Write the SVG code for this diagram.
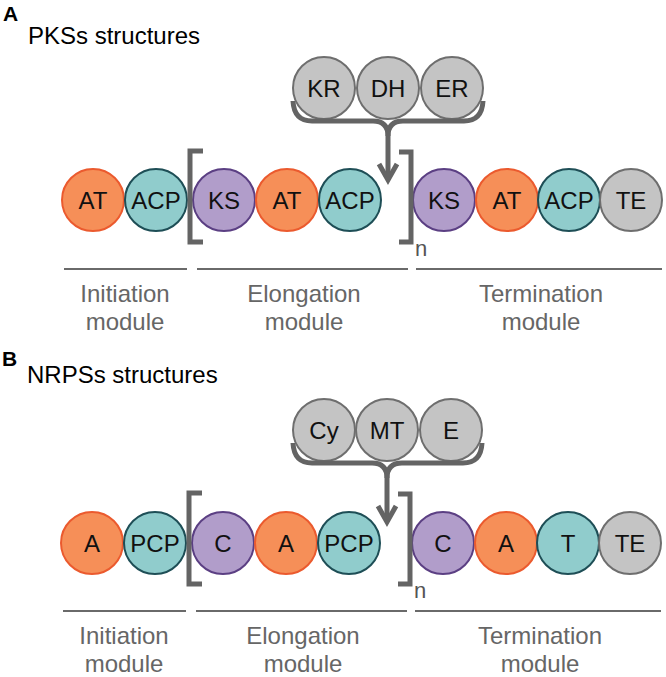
<svg xmlns="http://www.w3.org/2000/svg" width="666" height="677" viewBox="0 0 666 677">
<style>
text{font-family:"Liberation Sans",Arial,sans-serif}
.c{stroke-width:2}
.or{fill:#F68F58;stroke:#EB5A2E}
.tl{fill:#90CCCC;stroke:#1E4E56}
.pu{fill:#B19DCA;stroke:#5B3F83}
.gr{fill:#C4C4C4;stroke:#6E6E6E}
.lb{font-size:24px;fill:#111;text-anchor:middle}
.br{fill:none;stroke:#646464;stroke-width:5}
.ln{stroke:#6A6A6A;stroke-width:2}
.md{font-size:24px;fill:#666;text-anchor:middle}
.hd{font-size:21px;font-weight:bold;fill:#000}
.tt{font-size:24px;fill:#000}
.n{font-size:22px;fill:#555}
</style>
<rect width="666" height="677" fill="#fff"/>

<!-- Panel A -->
<text class="hd" x="3" y="21">A</text>
<text class="tt" x="28" y="44">PKSs structures</text>

<g id="A-tailoring">
<g id="A-KR"><circle class="c gr" cx="324" cy="88" r="31"/><text class="lb" x="324" y="97">KR</text></g>
<g id="A-DH"><circle class="c gr" cx="388" cy="88" r="31"/><text class="lb" x="388" y="97">DH</text></g>
<g id="A-ER"><circle class="c gr" cx="452" cy="88" r="31"/><text class="lb" x="452" y="97">ER</text></g>
</g>

<g id="A-init">
<g id="A-AT1"><circle class="c or" cx="93" cy="200" r="31"/><text class="lb" x="93" y="209">AT</text></g>
<g id="A-ACP1"><circle class="c tl" cx="156" cy="200" r="31"/><text class="lb" x="156" y="209">ACP</text></g>
</g>
<g id="A-elong">
<g id="A-KS2"><circle class="c pu" cx="224" cy="200" r="31"/><text class="lb" x="224" y="209">KS</text></g>
<g id="A-AT2"><circle class="c or" cx="287" cy="200" r="31"/><text class="lb" x="287" y="209">AT</text></g>
<g id="A-ACP2"><circle class="c tl" cx="350" cy="200" r="31"/><text class="lb" x="350" y="209">ACP</text></g>
</g>
<g id="A-term">
<g id="A-KS3"><circle class="c pu" cx="444" cy="200" r="31"/><text class="lb" x="444" y="209">KS</text></g>
<g id="A-AT3"><circle class="c or" cx="507" cy="200" r="31"/><text class="lb" x="507" y="209">AT</text></g>
<g id="A-ACP3"><circle class="c tl" cx="569" cy="200" r="31"/><text class="lb" x="569" y="209">ACP</text></g>
<g id="A-TE"><circle class="c gr" cx="631" cy="200" r="31"/><text class="lb" x="631" y="209">TE</text></g>
</g>

<g id="A-connectors">
<path class="br" d="M293,101 Q294,121 312,121 L373,121 Q388,121 388,136 L388,180"/>
<path class="br" d="M483,101 Q482,121 464,121 L403,121 Q388,121 388,136"/>
<path class="br" d="M379,164 L388,180 L397,164"/>
<path class="br" d="M203,151 L190,151 L190,242 L203,242"/>
<path class="br" d="M399,152 L411,152 L411,242 L399,242"/>
</g>
<text class="n" x="415" y="256">n</text>

<g id="A-modules">
<line class="ln" x1="64" y1="269" x2="187" y2="269"/>
<line class="ln" x1="197" y1="269" x2="408" y2="269"/>
<line class="ln" x1="416" y1="269" x2="662" y2="269"/>
<text class="md" x="125" y="302">Initiation</text><text class="md" x="125" y="330">module</text>
<text class="md" x="304" y="302">Elongation</text><text class="md" x="304" y="330">module</text>
<text class="md" x="541" y="302">Termination</text><text class="md" x="541" y="330">module</text>
</g>

<!-- Panel B -->
<text class="hd" x="2" y="366">B</text>
<text class="tt" x="27" y="383">NRPSs structures</text>

<g id="B-tailoring">
<g id="B-Cy"><circle class="c gr" cx="324" cy="430" r="31"/><text class="lb" x="324" y="439">Cy</text></g>
<g id="B-MT"><circle class="c gr" cx="387" cy="430" r="31"/><text class="lb" x="387" y="439">MT</text></g>
<g id="B-E"><circle class="c gr" cx="451" cy="430" r="31"/><text class="lb" x="451" y="439">E</text></g>
</g>

<g id="B-init">
<g id="B-A1"><circle class="c or" cx="92" cy="543" r="31"/><text class="lb" x="92" y="552">A</text></g>
<g id="B-PCP1"><circle class="c tl" cx="155" cy="543" r="31"/><text class="lb" x="155" y="552">PCP</text></g>
</g>
<g id="B-elong">
<g id="B-C2"><circle class="c pu" cx="223" cy="543" r="31"/><text class="lb" x="223" y="552">C</text></g>
<g id="B-A2"><circle class="c or" cx="286" cy="543" r="31"/><text class="lb" x="286" y="552">A</text></g>
<g id="B-PCP2"><circle class="c tl" cx="349" cy="543" r="31"/><text class="lb" x="349" y="552">PCP</text></g>
</g>
<g id="B-term">
<g id="B-C3"><circle class="c pu" cx="443" cy="543" r="31"/><text class="lb" x="443" y="552">C</text></g>
<g id="B-A3"><circle class="c or" cx="506" cy="543" r="31"/><text class="lb" x="506" y="552">A</text></g>
<g id="B-T"><circle class="c tl" cx="568" cy="543" r="31"/><text class="lb" x="568" y="552">T</text></g>
<g id="B-TE"><circle class="c gr" cx="630" cy="543" r="31"/><text class="lb" x="630" y="552">TE</text></g>
</g>

<g id="B-connectors">
<path class="br" d="M293,443 Q294,463 312,463 L372,463 Q387,463 387,478 L387,522"/>
<path class="br" d="M482,443 Q481,463 463,463 L402,463 Q387,463 387,478"/>
<path class="br" d="M378,506 L387,522 L396,506"/>
<path class="br" d="M202,493 L189,493 L189,584 L202,584"/>
<path class="br" d="M398,494 L410,494 L410,584 L398,584"/>
</g>
<text class="n" x="414" y="598">n</text>

<g id="B-modules">
<line class="ln" x1="63" y1="611" x2="186" y2="611"/>
<line class="ln" x1="196" y1="611" x2="407" y2="611"/>
<line class="ln" x1="415" y1="611" x2="661" y2="611"/>
<text class="md" x="124" y="644">Initiation</text><text class="md" x="124" y="672">module</text>
<text class="md" x="303" y="644">Elongation</text><text class="md" x="303" y="672">module</text>
<text class="md" x="540" y="644">Termination</text><text class="md" x="540" y="672">module</text>
</g>
</svg>
